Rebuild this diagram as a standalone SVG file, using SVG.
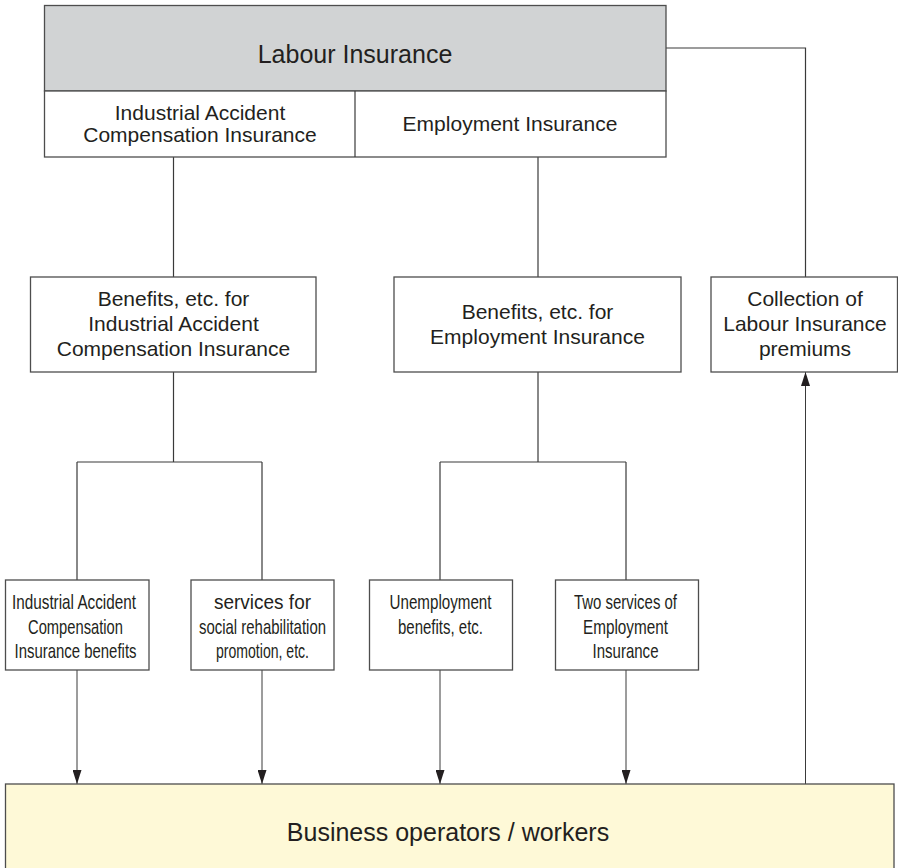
<svg xmlns="http://www.w3.org/2000/svg" width="898" height="868" viewBox="0 0 898 868">
  <style>
    .box { fill: #ffffff; stroke: #4d4d4d; stroke-width: 1.3; }
    .head { fill: #d1d3d4; stroke: #4d4d4d; stroke-width: 1.3; }
    .base { fill: #fef9d7; stroke: #4d4d4d; stroke-width: 1.3; }
    .line { fill: none; stroke: #3a3a3a; stroke-width: 1.2; }
    .arrow { fill: none; stroke: #3a3a3a; stroke-width: 1; }
    text { font-family: "Liberation Sans", Arial, sans-serif; fill: #231f20; text-anchor: middle; }
    .t25 { font-size: 25px; }
    .t21 { font-size: 21px; }
    .nar { font-size: 21px; }
  </style>
  <defs>
    <marker id="tip" viewBox="0 0 14 9" refX="14" refY="4.5" markerWidth="14" markerHeight="9" markerUnits="userSpaceOnUse" orient="auto">
      <path d="M0,0 L14,4.5 L0,9 Z" fill="#231f20"/>
    </marker>
  </defs>

  <!-- connectors -->
  <g id="connectors">
    <path class="line" d="M666,48 H805.5 V277"/>
    <path class="line" d="M173.5,157 V277"/>
    <path class="line" d="M538,157 V277"/>
    <path class="line" d="M173.5,372 V462 M77,462 H262 M77,462 V580 M262,462 V580"/>
    <path class="line" d="M538,372 V462 M440,462 H626 M440,462 V580 M626,462 V580"/>
    <path class="arrow" d="M77,670 V784" marker-end="url(#tip)"/>
    <path class="arrow" d="M262,670 V784" marker-end="url(#tip)"/>
    <path class="arrow" d="M440,670 V784" marker-end="url(#tip)"/>
    <path class="arrow" d="M626,670 V784" marker-end="url(#tip)"/>
    <path class="arrow" d="M805.5,784 V372" marker-end="url(#tip)"/>
  </g>

  <!-- Labour Insurance with its two branches -->
  <g id="labour-insurance">
    <rect class="head" x="44.5" y="5.5" width="621.5" height="85.5"/>
    <rect class="box" x="44.5" y="91" width="621.5" height="66"/>
    <line class="line" x1="355" y1="91" x2="355" y2="157"/>
    <text class="t25" x="355" y="63">Labour Insurance</text>
    <text class="t21" x="200" y="120">Industrial Accident</text>
    <text class="t21" x="200" y="142">Compensation Insurance</text>
    <text class="t21" x="510" y="131">Employment Insurance</text>
  </g>

  <g id="benefits-iaci">
    <rect class="box" x="30.5" y="277" width="285.5" height="95"/>
    <text class="t21" x="173.5" y="306">Benefits, etc. for</text>
    <text class="t21" x="173.5" y="331">Industrial Accident</text>
    <text class="t21" x="173.5" y="356">Compensation Insurance</text>
  </g>

  <g id="benefits-ei">
    <rect class="box" x="394" y="277" width="287" height="95"/>
    <text class="t21" x="537.5" y="319">Benefits, etc. for</text>
    <text class="t21" x="537.5" y="344">Employment Insurance</text>
  </g>

  <g id="collection">
    <rect class="box" x="711" y="277" width="186.5" height="95"/>
    <text class="t21" x="805" y="306">Collection of</text>
    <text class="t21" x="805" y="331">Labour Insurance</text>
    <text class="t21" x="805" y="356">premiums</text>
  </g>

  <g id="iaci-benefits">
    <rect class="box" x="5.5" y="580" width="143.5" height="90"/>
    <text class="nar" x="74" y="609" textLength="124" lengthAdjust="spacingAndGlyphs">Industrial Accident</text>
    <text class="nar" x="75.5" y="633.5" textLength="95" lengthAdjust="spacingAndGlyphs">Compensation</text>
    <text class="nar" x="75.5" y="658" textLength="122" lengthAdjust="spacingAndGlyphs">Insurance benefits</text>
  </g>

  <g id="rehabilitation">
    <rect class="box" x="191" y="580" width="143" height="90"/>
    <text class="nar" x="262.5" y="609" textLength="97" lengthAdjust="spacingAndGlyphs">services for</text>
    <text class="nar" x="262.5" y="633.5" textLength="127" lengthAdjust="spacingAndGlyphs">social rehabilitation</text>
    <text class="nar" x="262.5" y="658" textLength="93" lengthAdjust="spacingAndGlyphs">promotion, etc.</text>
  </g>

  <g id="unemployment">
    <rect class="box" x="369.5" y="580" width="143" height="90"/>
    <text class="nar" x="440.5" y="609" textLength="102" lengthAdjust="spacingAndGlyphs">Unemployment</text>
    <text class="nar" x="440.5" y="633.5" textLength="85" lengthAdjust="spacingAndGlyphs">benefits, etc.</text>
  </g>

  <g id="two-services">
    <rect class="box" x="555.5" y="580" width="143" height="90"/>
    <text class="nar" x="625.5" y="609" textLength="103" lengthAdjust="spacingAndGlyphs">Two services of</text>
    <text class="nar" x="625.5" y="633.5" textLength="85" lengthAdjust="spacingAndGlyphs">Employment</text>
    <text class="nar" x="625.5" y="658" textLength="66" lengthAdjust="spacingAndGlyphs">Insurance</text>
  </g>

  <g id="business">
    <rect class="base" x="5.5" y="784" width="888.5" height="100"/>
    <text class="t25" x="448" y="841">Business operators / workers</text>
  </g>
</svg>
